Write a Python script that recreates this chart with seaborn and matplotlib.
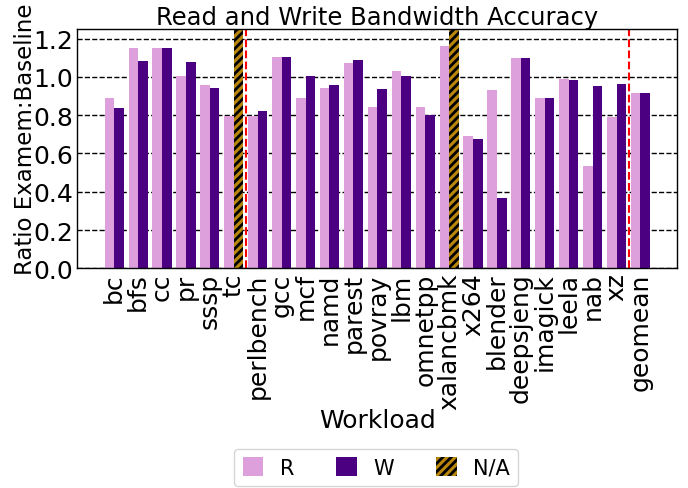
import numpy as np
import pandas as pd
import seaborn as sns
import matplotlib.pyplot as plt
from matplotlib.patches import Patch

'''
0) data read off the chart
'''
workloads = ['bc', 'bfs', 'cc', 'pr', 'sssp', 'tc', 'perlbench', 'gcc', 'mcf',
             'namd', 'parest', 'povray', 'lbm', 'omnetpp', 'xalancbmk', 'x264',
             'blender', 'deepsjeng', 'imagick', 'leela', 'nab', 'xz', 'geomean']
read_vals = [0.887, 1.153, 1.153, 1.005, 0.955, 0.795, 0.795, 1.104, 0.892,
             0.944, 1.070, 0.845, 1.033, 0.840, 1.163, 0.689,
             0.929, 1.101, 0.887, 0.991, 0.532, 0.788, 0.918]
write_vals = [0.835, 1.085, 1.153, 1.075, 0.944, np.nan, 0.824, 1.104, 1.002,
              0.955, 1.090, 0.934, 1.002, 0.800, np.nan, 0.673,
              0.365, 1.101, 0.887, 0.986, 0.950, 0.960, 0.913]
na_workloads = ['tc', 'xalancbmk']
split_after = ['tc', 'xz']

vmax = 1.25

'''
1) long dataframe for seaborn
'''
df_r = pd.DataFrame({'Workload': workloads, 'val': read_vals, 'type': 'R'})
df_w = pd.DataFrame({'Workload': workloads, 'val': write_vals, 'type': 'W'})
tdf = pd.concat([df_r, df_w], ignore_index=True)

colors = {'R': '#dda0dd', 'W': '#4b0082'}
na_color = '#b8860b'

'''
2) plot
'''
fig, ax = plt.subplots(1, 1, figsize=(6.88, 4.89), dpi=100)
fig.subplots_adjust(left=0.1124, right=0.9845, top=0.9387, bottom=0.4493)

ax.set_axisbelow(True)
ax.grid(axis='y', color='black', linestyle='--', linewidth=1)

sns.barplot(x='Workload', y='val', hue='type', data=tdf, order=workloads,
            palette=colors, width=0.8, saturation=1, ax=ax, legend=False)

# N/A bars in the W slot
plt.rcParams['hatch.linewidth'] = 2
for name in na_workloads:
    i = workloads.index(name)
    ax.bar(i + 0.2, vmax, width=0.4, color=na_color, edgecolor='black',
           hatch='////', linewidth=0)

for name in split_after:
    i = workloads.index(name)
    ax.axvline(i + 0.5, color='red', linestyle='--', linewidth=1.5)

ax.set_xlim(-1.54, len(workloads) + 0.54)
ax.set_ylim(0, vmax)
ax.set_yticks([0.0, 0.2, 0.4, 0.6, 0.8, 1.0, 1.2])
ax.set_yticklabels(['0.0', '0.2', '0.4', '0.6', '0.8', '1.0', '1.2'])
ax.tick_params(axis='both', labelsize=18, length=0, pad=3)
plt.setp(ax.get_xticklabels(), rotation=90)

ax.set_title('Read and Write Bandwidth Accuracy', fontsize=17.5, pad=3)
ax.set_ylabel('Ratio Examem:Baseline', fontsize=16.5)
ax.yaxis.set_label_coords(-0.068, 0.545)
ax.set_xlabel('Workload', fontsize=18, labelpad=-1)

for s in ax.spines.values():
    s.set_color('black')
    s.set_linewidth(1)

handles = [Patch(facecolor=colors['R'], label='R'),
           Patch(facecolor=colors['W'], label='W'),
           Patch(facecolor=na_color, edgecolor='black', hatch='////',
                 linewidth=0, label='N/A')]
fig.legend(handles=handles, loc='lower center', ncol=3, fontsize=15,
           bbox_to_anchor=(0.547, 0.004), borderaxespad=0,
           handlelength=1.0, handleheight=1.0, columnspacing=2.0)

plt.savefig('out.png', dpi=100)
